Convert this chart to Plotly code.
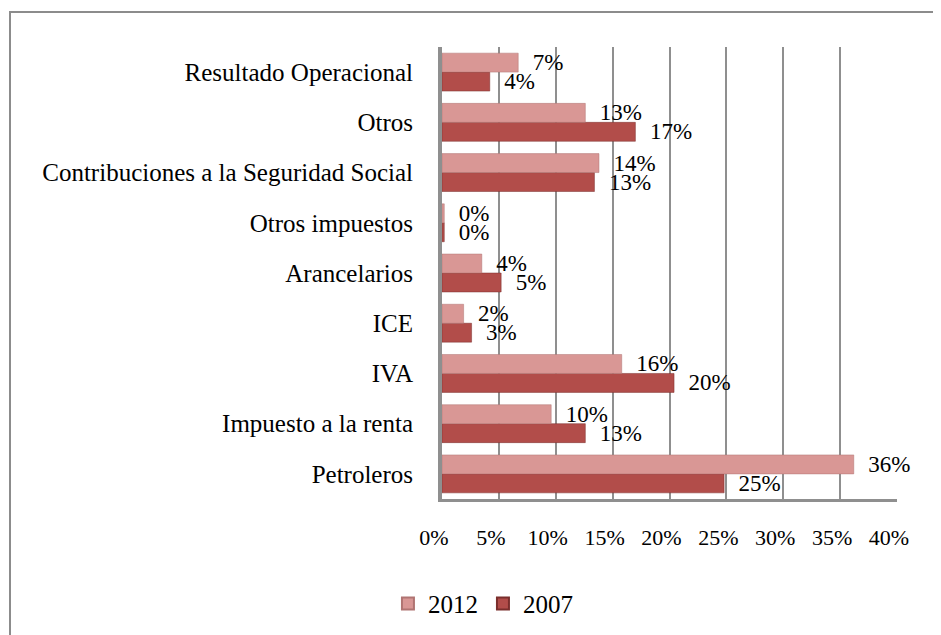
import plotly.graph_objects as go

categories = ["Petroleros", "Impuesto a la renta", "IVA", "ICE", "Arancelarios",
              "Otros impuestos", "Contribuciones a la Seguridad Social", "Otros",
              "Resultado Operacional"]
values_2012 = [0.362, 0.096, 0.158, 0.019, 0.035, 0.002, 0.138, 0.126, 0.067]
values_2007 = [0.248, 0.126, 0.204, 0.026, 0.052, 0.002, 0.134, 0.170, 0.042]
x_ticks = [0, 0.05, 0.10, 0.15, 0.20, 0.25, 0.30, 0.35, 0.40]
x_tick_labels = ["0%", "5%", "10%", "15%", "20%", "25%", "30%", "35%", "40%"]

FONT = "Liberation Serif, Times New Roman, serif"
C2012 = "#D99795"
C2007 = "#B24D4A"

def lab(v):
    return ["  {:.0f}%".format(x * 100) for x in v]

fig = go.Figure()
fig.add_trace(go.Bar(
    y=categories, x=values_2007, name="2007", orientation="h",
    marker=dict(color=C2007, line=dict(color="#7a2e2c", width=0.5)),
    text=lab(values_2007), textposition="outside", cliponaxis=False,
    constraintext="none",
    textfont=dict(family=FONT, size=23, color="#000000"),
))
fig.add_trace(go.Bar(
    y=categories, x=values_2012, name="2012", orientation="h",
    marker=dict(color=C2012, line=dict(color="#b07472", width=0.5)),
    text=lab(values_2012), textposition="outside", cliponaxis=False,
    constraintext="none",
    textfont=dict(family=FONT, size=23, color="#000000"),
))

L, T = 434, 39
pw, ph = 455, 452
R = 941 - L - pw
B = 635 - T - ph

fig.update_layout(
    width=941, height=635,
    margin=dict(l=L, r=R, t=T, b=B, pad=0, autoexpand=False),
    paper_bgcolor="white", plot_bgcolor="white",
    barmode="group", bargap=0.245, bargroupgap=0,
    font=dict(family=FONT, size=22, color="#000000"),
    showlegend=True,
    legend=dict(orientation="h", x=0.09, xanchor="center", y=-0.232, yanchor="middle",
                traceorder="reversed", font=dict(family=FONT, size=25),
                itemwidth=30, itemsizing="constant"),
    xaxis=dict(range=[0, 0.40], tickvals=x_ticks, ticktext=x_tick_labels,
               showgrid=True, gridcolor="#8f8f8f", gridwidth=2,
               showline=True, linecolor="#8f8f8f", linewidth=3,
               zeroline=False, ticks="", ticklabelstandoff=17, ticklabelshift=-8,
               automargin=False,
               tickfont=dict(family=FONT, size=22)),
    yaxis=dict(categoryorder="array", categoryarray=categories,
               showgrid=False, showline=True, linecolor="#8f8f8f", linewidth=4,
               ticks="", ticklabelstandoff=20, automargin=False,
               tickfont=dict(family=FONT, size=25)),
    shapes=[dict(type="rect", xref="paper", yref="paper",
                 x0=(2 - L) / pw, x1=(960 - L) / pw,
                 y0=-(B + 20) / ph, y1=1 + (T - 4) / ph,
                 line=dict(color="#8c8c8c", width=2), fillcolor="rgba(0,0,0,0)",
                 layer="below")],
)

fig.write_html("out.html")
